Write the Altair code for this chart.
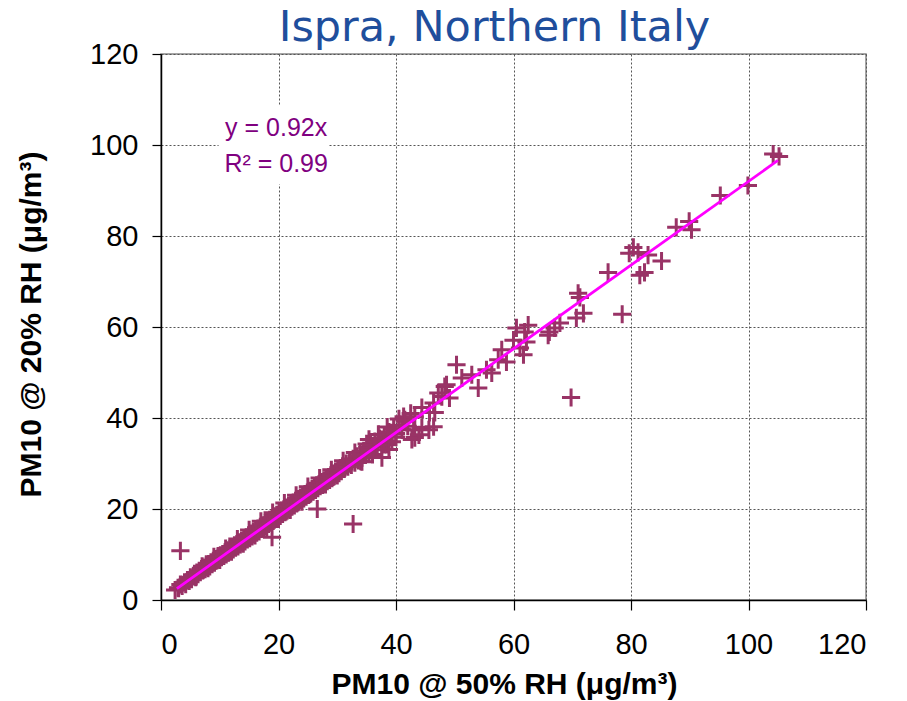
import altair as alt
import pandas as pd

# ---- data ----
seg_a_x = [2.4, 2.9, 3.0, 3.3, 3.6, 4.0, 4.2, 4.5, 4.8, 5.0, 5.2, 5.5, 5.7, 5.9, 6.0, 6.1, 6.3, 6.5, 6.7, 6.9,
           7.0, 7.1, 7.3, 7.5, 7.7, 7.9, 8.0, 8.1, 8.3, 8.5, 8.7, 8.9, 9.0, 9.1, 9.3, 9.5, 9.7, 9.9, 10.0, 10.1,
           10.3, 10.5, 10.7, 10.9, 11.0, 11.1, 11.3, 11.5, 11.7, 11.9]
seg_a_y = [2.2, 2.7, 2.6, 3.4, 3.1, 3.9, 3.5, 4.4, 4.2, 5.0, 4.6, 5.3, 5.6, 5.0, 5.2, 6.0, 5.7, 6.4, 6.1, 6.8,
           7.4, 6.5, 7.1, 6.8, 7.5, 7.2, 7.0, 7.9, 7.4, 8.3, 7.9, 8.6, 9.5, 8.2, 9.0, 8.7, 9.3, 8.9, 8.8, 9.8,
           9.4, 10.1, 9.7, 10.5, 11.3, 10.0, 10.9, 10.4, 11.2, 10.8]

seg_b_x = [12.0, 12.1, 12.3, 12.5, 12.7, 12.9, 13.0, 13.1, 13.3, 13.5, 13.7, 13.9, 14.0, 14.1, 14.3, 14.5, 14.7,
           14.9, 15.0, 15.1, 15.3, 15.5, 15.7, 15.9, 16.0, 16.1, 16.3, 16.5, 16.7, 16.9, 17.0, 17.1, 17.3, 17.5,
           17.7, 17.9, 18.0, 18.1, 18.3, 18.5, 18.7, 18.9, 19.0, 19.1, 19.3, 19.5, 19.7, 19.9, 20.0, 20.1, 20.3,
           20.5, 20.7, 20.9, 21.0, 21.1, 21.3, 21.5, 21.7, 21.9]
seg_b_y = [10.6, 11.6, 11.1, 12.0, 11.5, 12.3, 13.4, 11.8, 12.7, 12.2, 13.0, 12.6, 12.4, 13.5, 12.9, 13.8, 13.3,
           14.2, 15.4, 13.6, 14.6, 14.0, 15.0, 14.4, 14.2, 15.3, 14.8, 15.7, 15.1, 16.1, 17.3, 15.6, 16.4, 15.9,
           16.9, 16.3, 16.0, 17.2, 16.7, 17.6, 17.0, 18.0, 19.2, 17.4, 18.4, 17.8, 18.7, 18.2, 17.8, 19.1, 18.5,
           19.6, 18.9, 19.9, 21.3, 19.3, 20.3, 19.7, 20.7, 20.0]

seg_c_x = [22.0, 22.1, 22.3, 22.5, 22.7, 22.9, 23.0, 23.1, 23.3, 23.5, 23.7, 23.9, 24.0, 24.1, 24.3, 24.5, 24.7,
           24.9, 25.0, 25.1, 25.3, 25.5, 25.7, 25.9, 26.1, 26.3, 26.5, 26.7, 26.9, 27.0, 27.1, 27.3, 27.5, 27.7,
           27.9, 28.0, 28.1, 28.3, 28.5, 28.7, 28.9, 29.0, 29.1, 29.3, 29.5, 29.7, 29.9, 30.0, 30.1, 30.3, 30.5,
           30.7, 30.9, 31.0, 31.2, 31.5, 31.8]
seg_c_y = [19.8, 21.0, 20.5, 21.4, 20.8, 21.8, 23.0, 21.2, 22.2, 21.6, 22.5, 22.0, 21.6, 22.9, 22.3, 23.3, 22.7,
           23.6, 24.9, 23.1, 24.0, 23.4, 24.4, 23.8, 24.8, 24.2, 25.2, 24.6, 25.5, 26.8, 25.0, 25.9, 25.3, 26.3,
           25.7, 25.4, 26.7, 26.1, 27.0, 26.4, 27.4, 28.6, 26.8, 27.8, 27.2, 28.2, 27.6, 27.4, 28.6, 27.9, 29.0,
           28.3, 29.4, 30.6, 28.8, 30.0, 29.3]

seg_d_x = [32.1, 32.4, 32.7, 33.0, 33.0, 33.3, 33.6, 33.9, 34.0, 34.2, 34.2, 34.5, 34.8, 35.0, 35.1, 35.4, 35.4,
           35.5, 35.7, 36.0, 36.0, 36.4, 36.8, 37.0, 37.2, 37.6, 37.6, 38.0, 38.0, 38.4, 38.4, 38.5, 38.8, 38.8,
           39.2, 39.3, 39.6, 40.0, 40.0, 40.5, 40.5, 41.0, 41.3, 41.5, 41.5, 42.0, 42.5, 42.7, 43.0, 43.2, 43.2,
           43.9, 44.4, 44.4, 45.6, 45.7, 46.4, 46.4, 46.6, 47.2, 47.8, 48.3, 48.6, 49.1]
seg_d_y = [30.5, 29.7, 31.0, 30.2, 32.4, 31.6, 30.7, 32.2, 30.5, 31.3, 30.4, 32.8, 31.9, 34.3, 33.5, 32.4, 35.3,
           33.1, 34.1, 33.0, 32.0, 34.8, 33.6, 36.4, 35.5, 34.3, 31.3, 36.2, 34.2, 35.0, 34.2, 38.0, 36.9, 33.1,
           35.8, 34.8, 37.6, 36.6, 35.8, 38.4, 39.8, 37.4, 40.3, 39.3, 39.6, 38.2, 41.0, 35.3, 37.4, 40.3, 35.7,
           36.3, 42.3, 37.9, 37.4, 41.2, 43.3, 38.1, 41.2, 45.5, 44.7, 46.9, 47.3, 44.4]

seg_e_x = [50.3, 51.2, 52.9, 54.0, 55.4, 56.3, 57.4, 58.0, 58.8, 60.0, 60.5, 61.1, 61.7, 61.9, 62.2, 62.5, 65.9,
           66.1, 67.0, 67.9, 70.7, 71.0, 71.3, 71.9, 76.1, 79.7, 80.4, 81.2, 81.5, 82.3, 82.9, 85.2, 87.7, 89.9,
           90.3, 95.2, 99.9, 104.2, 105.2]
seg_e_y = [51.7, 48.8, 49.5, 46.6, 50.6, 49.9, 52.8, 55.0, 52.3, 57.1, 59.8, 55.4, 53.9, 58.9, 56.7, 60.4, 58.2,
           58.9, 59.8, 60.9, 62.0, 67.4, 66.5, 63.0, 72.0, 76.2, 77.5, 76.4, 71.4, 72.0, 75.8, 74.5, 81.9, 83.2,
           81.4, 88.9, 91.1, 98.0, 97.5]

outlier_x = [3.3, 18.9, 26.6, 32.7, 69.8, 78.5]
outlier_y = [10.8, 13.8, 20.0, 16.7, 44.5, 62.8]

# fitted line y = 0.92x, end points
fit_x = [2.7, 105.0]
fit_y = [2.5, 96.6]

ann_text = ["y = 0.92x", "R² = 0.99"]
ann_x = [19.6, 19.6]
ann_y = [102.0, 94.1]
box_x = [9.8]
box_x2 = [28.6]
box_y = [91.4]
box_y2 = [108.8]

ticks = [0, 20, 40, 60, 80, 100, 120]

pm50 = seg_a_x + seg_b_x + seg_c_x + seg_d_x + seg_e_x + outlier_x
pm20 = seg_a_y + seg_b_y + seg_c_y + seg_d_y + seg_e_y + outlier_y

pts = pd.DataFrame({"x": pm50, "y": pm20})
fit = pd.DataFrame({"x": fit_x, "y": fit_y})
ann = pd.DataFrame({"x": ann_x, "y": ann_y, "t": ann_text})
box = pd.DataFrame({"x": box_x, "x2": box_x2, "y": box_y, "y2": box_y2})

W, H = 705, 546

xscale = alt.Scale(domain=[0, 120], nice=False, zero=False)
yscale = alt.Scale(domain=[0, 120], nice=False, zero=False)

xaxis = alt.Axis(values=ticks, title="PM10 @ 50% RH (μg/m³)", titleX=343, titleY=93,
                 titleBaseline="alphabetic", titleAlign="center",
                 labelPadding=20, tickSize=10)
yaxis = alt.Axis(values=ticks, title="PM10 @ 20% RH  (μg/m³)", titleX=-121, titleY=270,
                 titleAngle=-90, titleBaseline="alphabetic", titleAlign="center",
                 labelPadding=14, tickSize=9)


def X(field="x"):
    return alt.X(f"{field}:Q", scale=xscale, axis=xaxis)


def Y(field="y"):
    return alt.Y(f"{field}:Q", scale=yscale, axis=yaxis)


box_layer = alt.Chart(box).mark_rect(color="white").encode(
    x=X(), x2="x2:Q", y=Y(), y2="y2:Q")

points = alt.Chart(pts).mark_point(
    shape="M-1,0H1M0,-1V1", filled=False, size=330, strokeWidth=3,
    color="#993366", opacity=1).encode(x=X(), y=Y())

line = alt.Chart(fit).mark_line(color="#FF00FF", strokeWidth=2.8).encode(x=X(), y=Y())

text = alt.Chart(ann).mark_text(
    font="Liberation Sans", fontSize=25, color="#800080",
    align="center", baseline="alphabetic").encode(x=X(), y=Y(), text="t:N")

chart = alt.layer(box_layer, points, line, text).properties(
    width=W, height=H,
    background="white",
    autosize=alt.AutoSizeParams(type="none"),
    padding={"left": 161, "top": 54, "right": 41, "bottom": 101},
    title=alt.TitleParams(
        text="Ispra, Northern Italy", font="DejaVu Sans", fontSize=43,
        fontWeight="normal", color="#1F4E9C", anchor="middle", frame="group",
        baseline="alphabetic", dx=-19, dy=44, offset=0),
).configure_view(
    stroke="#888888", strokeWidth=1.5
).configure_axis(
    labelFont="Liberation Sans", labelFontSize=29, labelColor="black",
    titleFont="Liberation Sans", titleFontSize=30, titleFontWeight="bold", titleColor="black",
    domainColor="black", domainWidth=1.5, tickColor="black", tickWidth=1.2,
    gridColor="#555555", gridDash=[2, 2], gridWidth=1, gridOpacity=1,
)

chart.save("out.html", embed_options={"renderer": "svg", "actions": False})
